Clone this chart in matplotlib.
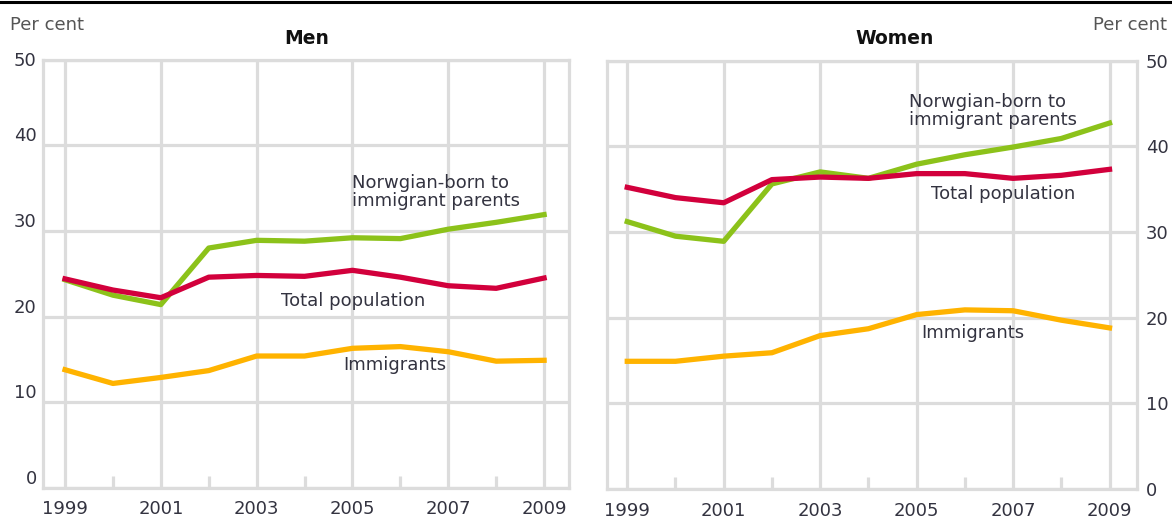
import matplotlib
matplotlib.use("Agg")
import matplotlib.pyplot as plt
from matplotlib.lines import Line2D

# data (per cent)
years = [1999, 2000, 2001, 2002, 2003, 2004, 2005, 2006, 2007, 2008, 2009]
year_labels = ["1999", "2001", "2003", "2005", "2007", "2009"]
y_ticks = [0, 10, 20, 30, 40, 50]

men_total = [24.4, 23.1, 22.2, 24.6, 24.8, 24.7, 25.4, 24.6, 23.6, 23.3, 24.5]
men_norw = [24.3, 22.5, 21.4, 28.0, 28.9, 28.8, 29.2, 29.1, 30.2, 31.0, 31.9]
men_immi = [13.8, 12.2, 12.9, 13.7, 15.4, 15.4, 16.3, 16.5, 15.9, 14.8, 14.9]

women_total = [35.2, 34.0, 33.4, 36.1, 36.4, 36.25, 36.8, 36.8, 36.25, 36.6, 37.3]
women_norw = [31.2, 29.5, 28.9, 35.6, 37.0, 36.25, 37.9, 39.0, 39.9, 40.9, 42.7]
women_immi = [14.9, 14.9, 15.5, 15.9, 17.9, 18.7, 20.35, 20.9, 20.8, 19.7, 18.8]

GREEN = "#8cc21a"
RED = "#d2003c"
YELLOW = "#ffb300"
GRID = "#dcdcdc"
TXT = "#333340"

plt.rcParams["font.family"] = ["DejaVu Sans"]
plt.rcParams["font.size"] = 13

W, H = 1172, 532
fig = plt.figure(figsize=(W / 100, H / 100), dpi=100)

ax1 = fig.add_axes([43 / W, 1 - 488 / H, (569 - 43) / W, (488 - 59.5) / H])
ax2 = fig.add_axes([607 / W, 1 - 489 / H, (1137 - 607) / W, (489 - 60.5) / H])


def setup(ax, xlim):
  ax.set_xlim(*xlim)
  ax.set_ylim(0, 50)
  ax.set_xticks([int(y) for y in year_labels])
  ax.set_xticklabels(year_labels)
  ax.set_xticks(years[1::2], minor=True)
  ax.set_yticks(y_ticks)
  ax.grid(which="major", color=GRID, lw=2.3)
  ax.set_axisbelow(True)
  for s in ax.spines.values():
    s.set_color(GRID)
    s.set_linewidth(2.3)
  ax.tick_params(which="major", length=0, colors=TXT, labelsize=13)
  ax.tick_params(axis="x", which="major", pad=9)
  ax.tick_params(axis="x", which="minor", direction="in", length=8.5,
                 width=2.3, color=GRID, top=False)
  ax.tick_params(axis="y", which="minor", length=0)


setup(ax1, (1998.54, 2009.52))
setup(ax2, (1998.58, 2009.57))

# left y labels sit just above the grid lines
ax1.tick_params(axis="y", pad=4.5)
for lab in ax1.get_yticklabels():
  if lab.get_text() != "50":
    lab.set_va("bottom")
ax2.yaxis.tick_right()
ax2.tick_params(axis="y", which="major", length=0, pad=6.5)

for ax, tot, norw, immi in [(ax1, men_total, men_norw, men_immi),
                            (ax2, women_total, women_norw, women_immi)]:
  ax.plot(years, immi, color=YELLOW, lw=3.8, solid_joinstyle="round")
  ax.plot(years, norw, color=GREEN, lw=3.8, solid_joinstyle="round")
  ax.plot(years, tot, color=RED, lw=3.8, solid_joinstyle="round")

# line labels
ax1.text(2005.0, 34.5, "Norwgian-born to\nimmigrant parents", ha="left",
         va="center", color=TXT, linespacing=1.0)
ax1.text(2003.5, 21.8, "Total population", ha="left", va="center", color=TXT)
ax1.text(2004.8, 14.3, "Immigrants", ha="left", va="center", color=TXT)

ax2.text(2004.84, 44.1, "Norwgian-born to\nimmigrant parents", ha="left",
         va="center", color=TXT, linespacing=1.0)
ax2.text(2005.3, 34.4, "Total population", ha="left", va="center", color=TXT)
ax2.text(2005.1, 18.2, "Immigrants", ha="left", va="center", color=TXT)

# titles and units
fig.text(307 / W, 1 - 38.5 / H, "Men", ha="center", va="center",
         weight="bold", color="#111111", fontsize=13.5)
fig.text(895 / W, 1 - 38.5 / H, "Women", ha="center", va="center",
         weight="bold", color="#111111", fontsize=13.5)
fig.text(10 / W, 1 - 25 / H, "Per cent", ha="left", va="center",
         color="#555555", fontsize=13)
fig.text(1167 / W, 1 - 25 / H, "Per cent", ha="right", va="center",
         color="#555555", fontsize=13)

# rule at the very top
fig.add_artist(Line2D([0, 1], [1 - 2 / H, 1 - 2 / H], color="black", lw=2.2,
                      transform=fig.transFigure))

fig.savefig("out.png", dpi=100)
